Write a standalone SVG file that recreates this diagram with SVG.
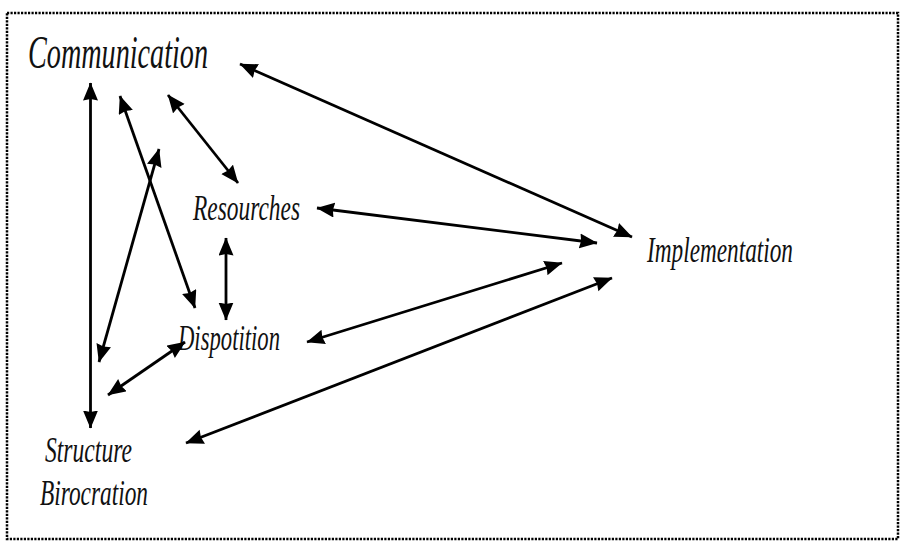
<svg xmlns="http://www.w3.org/2000/svg" width="901" height="543" viewBox="0 0 901 543">
  <style>
    .lbl { font-family: "Liberation Serif", "Times New Roman", serif; font-style: italic; fill: #111; }
    .big { font-size: 46px; }
    .sm { font-size: 36px; }
    .con line { stroke: #000; stroke-width: 2.8; marker-start: url(#ah); marker-end: url(#ah); }
  </style>
  <defs>
    <marker id="ah" markerUnits="userSpaceOnUse" markerWidth="20" markerHeight="16" refX="17.5" refY="7.5" orient="auto-start-reverse" viewBox="0 0 20 16">
      <path d="M0,0 L18,7.5 L0,15 L1.5,7.5 z" fill="#000"/>
    </marker>
  </defs>
  <rect x="7" y="13" width="891" height="526" fill="#fff" stroke="#000" stroke-width="2.5" stroke-dasharray="2.2 1.3"/>

  <g id="communication"><text class="lbl big" x="28" y="68" textLength="180" lengthAdjust="spacingAndGlyphs">Communication</text></g>
  <g id="resourches"><text class="lbl sm" x="193" y="220" textLength="107" lengthAdjust="spacingAndGlyphs">Resourches</text></g>
  <g id="dispotition"><text class="lbl sm" x="178" y="350" textLength="102" lengthAdjust="spacingAndGlyphs">Dispotition</text></g>
  <g id="implementation"><text class="lbl sm" x="647" y="262" textLength="146" lengthAdjust="spacingAndGlyphs">Implementation</text></g>
  <g id="structure-birocration">
    <text class="lbl sm" x="45" y="462" textLength="87" lengthAdjust="spacingAndGlyphs">Structure</text>
    <text class="lbl sm" x="40" y="505" textLength="108" lengthAdjust="spacingAndGlyphs">Birocration</text>
  </g>

  <g id="connectors" class="con">
    <line x1="240" y1="64" x2="632" y2="237"/>
    <line x1="90.5" y1="83" x2="90.5" y2="428"/>
    <line x1="120" y1="96" x2="195" y2="308"/>
    <line x1="159" y1="149" x2="99" y2="362"/>
    <line x1="168" y1="95" x2="238" y2="183"/>
    <line x1="317" y1="208" x2="597" y2="243"/>
    <line x1="226" y1="238" x2="226" y2="320"/>
    <line x1="307" y1="342" x2="562" y2="263"/>
    <line x1="108" y1="395" x2="185" y2="342"/>
    <line x1="186" y1="443" x2="612" y2="278"/>
  </g>
</svg>
